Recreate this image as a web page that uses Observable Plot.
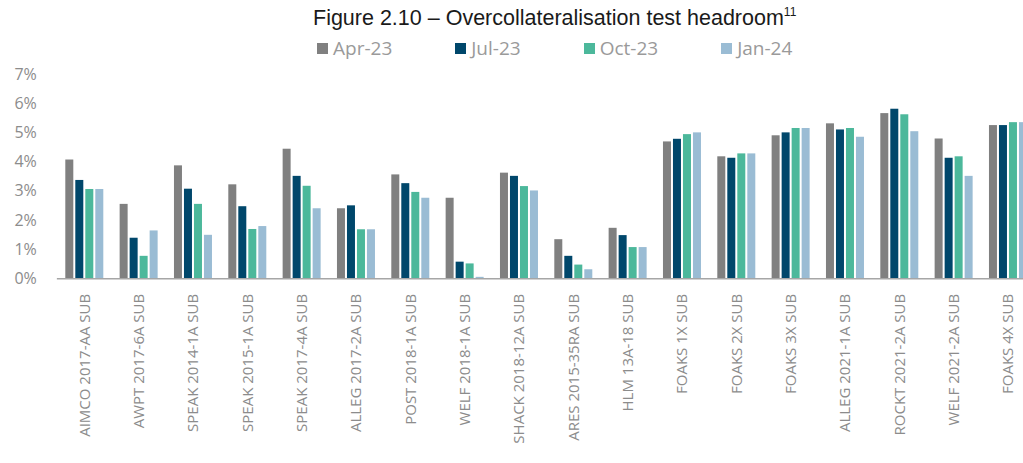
<!DOCTYPE html>
<html>
<head>
<meta charset="utf-8">
<script src="https://cdn.jsdelivr.net/npm/d3@7"></script>
<script src="https://cdn.jsdelivr.net/npm/@observablehq/plot@0.6"></script>
<style>
  html, body { margin: 0; padding: 0; background: #fff; width: 1023px; height: 463px; overflow: hidden; }
  #title { position: absolute; left: 313px; top: 6px; font-family: "Liberation Sans", Arial, sans-serif; font-size: 21.5px; color: #1a1a1a; white-space: nowrap; }
  #title sup { font-size: 12px; vertical-align: 9px; line-height: 0; }
  #legend { position: absolute; left: 317px; top: 35px; display: flex; align-items: center; font-family: "Open Sans", sans-serif; font-size: 19px; color: #9a9a9a; white-space: nowrap; }
  #legend .item { display: flex; align-items: center; margin-right: 63px; }
  #legend .sw { width: 11px; height: 11px; margin-right: 5px; }
  #wrap { position: absolute; left: 0; top: 60px; width: 1023px; height: 403px; overflow: hidden; }
  #wrap svg { max-width: none !important; }
  #wrap svg [aria-label^="y-axis"] { font-size: 16px; }
</style>
</head>
<body>
<div id="title">Figure 2.10 – Overcollateralisation test headroom<sup>11</sup></div>
<div id="legend"></div>
<div id="wrap"></div>
<script>
const categories = ["AIMCO 2017-AA SUB","AWPT 2017-6A SUB","SPEAK 2014-1A SUB","SPEAK 2015-1A SUB","SPEAK 2017-4A SUB","ALLEG 2017-2A SUB","POST 2018-1A SUB","WELF 2018-1A SUB","SHACK 2018-12A SUB","ARES 2015-35RA SUB","HLM 13A-18 SUB","FOAKS 1X SUB","FOAKS 2X SUB","FOAKS 3X SUB","ALLEG 2021-1A SUB","ROCKT 2021-2A SUB","WELF 2021-2A SUB","FOAKS 4X SUB"];
const seriesNames = ["Apr-23","Jul-23","Oct-23","Jan-24"];
const seriesColors = ["#808080","#00476b","#4cb89b","#9abcd4"];
const apr23 = [4.07, 2.55, 3.87, 3.22, 4.44, 2.40, 3.56, 2.76, 3.62, 1.34, 1.73, 4.69, 4.18, 4.90, 5.31, 5.66, 4.79, 5.25];
const jul23 = [3.37, 1.39, 3.07, 2.47, 3.51, 2.50, 3.26, 0.57, 3.51, 0.77, 1.48, 4.78, 4.13, 5.00, 5.10, 5.81, 4.13, 5.25];
const oct23 = [3.06, 0.77, 2.55, 1.69, 3.17, 1.68, 2.96, 0.51, 3.16, 0.47, 1.07, 4.94, 4.28, 5.15, 5.15, 5.62, 4.18, 5.35];
const jan24 = [3.06, 1.64, 1.49, 1.79, 2.40, 1.68, 2.76, 0.05, 3.01, 0.31, 1.07, 5.00, 4.28, 5.15, 4.85, 5.04, 3.51, 5.35];
const yTicks = [0, 1, 2, 3, 4, 5, 6, 7];

const seriesValues = [apr23, jul23, oct23, jan24];
const rows = categories.flatMap((cat, i) =>
  seriesNames.map((s, j) => ({cat, series: s, value: seriesValues[j][i]})));

// legend
const legend = d3.select("#legend");
seriesNames.forEach((s, j) => {
  const it = legend.append("div").attr("class", "item");
  it.append("div").attr("class", "sw").style("background", seriesColors[j]);
  it.append("span").text(s);
});

const W = 1040, H = 403, ML = 58.87, MR = 6.6, MT = 14, MB = 184.7;
const chart = Plot.plot({
  width: W,
  height: H,
  marginTop: MT,
  marginBottom: MB,
  marginLeft: ML,
  marginRight: MR,
  style: {fontFamily: "'Open Sans', sans-serif", fontSize: "15px", color: "#8c8c8c", background: "transparent", overflow: "visible", maxWidth: "none"},
  facet: {data: rows, x: "cat"},
  fx: {domain: categories, paddingInner: 0.2638, paddingOuter: 0.1, round: false, label: null, tickRotate: -90, tickSize: 0, tickPadding: 15},
  x: {domain: seriesNames, axis: null, paddingInner: 0, paddingOuter: 0, round: false},
  y: {domain: [0, 7], ticks: yTicks, tickFormat: d => d + "%", tickSize: 0, tickPadding: 28, label: null},
  color: {domain: seriesNames, range: seriesColors},
  marks: [
    Plot.barY(rows, {x: "series", y: "value", fill: "series", insetLeft: 1, insetRight: 1})
  ]
});

const ys = chart.scale("y");
const y0 = ys.range[0];
d3.select(chart).append("line")
  .attr("x1", ML - 2).attr("x2", W)
  .attr("y1", y0 + 0.5).attr("y2", y0 + 0.5)
  .attr("stroke", "#a6a6a6").attr("stroke-width", 1.5);

document.getElementById("wrap").appendChild(chart);
</script>
</body>
</html>
